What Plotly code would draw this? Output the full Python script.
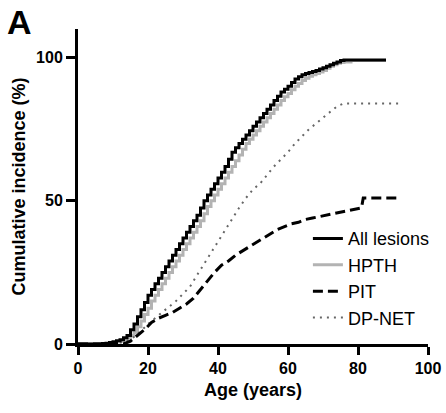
import plotly.graph_objects as go

# Age (years) and cumulative incidence (%)
all_age = [0, 6, 7, 8, 9, 10, 11, 12, 13, 14, 15, 16, 17, 18, 19, 20, 21, 22, 23, 24, 25, 26, 27, 28, 29,
           30, 31, 32, 33, 34, 35, 36, 37, 38, 39, 40, 41, 42, 43, 44, 45, 46, 47, 48, 49, 50, 51, 52, 53,
           54, 55, 56, 57, 58, 59, 60, 61, 62, 63, 64, 65, 66, 67, 68, 69, 70, 71, 72, 73, 74, 75, 76, 88]
all_pct = [0, 0, 0.2, 0.3, 0.5, 0.8, 1.1, 1.5, 2.2, 3, 5, 7, 9.5, 12, 14.5, 17, 19, 21, 23, 25, 27, 29, 31,
           33, 35, 37, 39, 41, 43, 45, 47.5, 50, 52, 54, 56, 58, 60, 62, 64.5, 67, 68.5, 70, 71.5, 73, 74.5,
           76, 77.5, 79, 80.5, 82, 83.5, 85, 86.5, 88, 89, 90, 91.3, 92.5, 93.3, 94, 94.5, 94.8, 95.2, 95.5,
           96, 96.5, 97, 97.5, 98, 98.5, 99, 99.2, 99.2]

hpth_age = [0, 6, 7, 8, 9, 10, 11, 12, 13, 14, 15, 16, 17, 18, 19, 20, 21, 22, 23, 24, 25, 26, 27, 28, 29,
            30, 31, 32, 33, 34, 35, 36, 37, 38, 39, 40, 41, 42, 43, 44, 45, 46, 47, 48, 49, 50, 51, 52, 53,
            54, 55, 56, 57, 58, 59, 60, 61, 62, 63, 64, 65, 66, 67, 68, 69, 70, 71, 72, 73, 74, 75, 76, 78, 88]
hpth_pct = [0, 0, 0.1, 0.2, 0.3, 0.5, 0.7, 1, 1.5, 2, 3, 4, 6, 8, 10.3, 12.5, 15, 17, 19, 21, 23, 25, 27, 29,
            31, 33, 35, 37, 39, 41, 43, 45.5, 48, 50, 52, 54, 56, 58, 60, 62, 64, 66, 68, 70, 71.5, 73, 74.5,
            76, 77.5, 79, 80.5, 82, 83.5, 85, 86.3, 87.5, 88.8, 90, 91, 92, 92.8, 93.5, 94, 94.5, 95, 95.5,
            96.3, 97, 97.5, 98, 98.3, 98.5, 99, 99]

pit_age = [0, 13, 15, 17, 19, 21, 23, 25, 27, 29, 31, 33, 35, 37, 39, 41, 43, 45, 47, 49, 51, 53, 55, 57,
           59, 61, 63, 65, 67, 69, 71, 73, 75, 77, 79, 81, 81.5, 92]
pit_pct = [0, 0, 1, 3, 5, 7.5, 9, 10, 11, 12.5, 14, 16, 19, 22, 25, 27.5, 29, 31, 32.5, 34, 35.5, 37, 38.5, 40,
           41, 42, 42.5, 43.5, 44, 44.5, 45, 45.5, 46, 46.5, 47, 47.5, 51, 51]

dpnet_age = [0, 10, 14, 16, 18, 20, 22, 24, 26, 28, 30, 32, 34, 36, 38, 40, 42, 44, 46, 48, 50, 52, 54, 56,
             58, 60, 62, 64, 66, 68, 70, 72, 74, 76, 92]
dpnet_pct = [0, 0, 1, 2.5, 4.5, 7, 9, 11, 13, 15, 17.5, 20, 24, 28, 32, 36, 40, 44, 47.5, 51, 54, 56, 59, 62,
             64.5, 67, 70, 72.5, 75, 77, 79, 81, 83, 84, 84]

x_ticks = [0, 20, 40, 60, 80, 100]
y_ticks = [0, 50, 100]

FONT = "Liberation Sans, Arial, sans-serif"

fig = go.Figure()
fig.add_trace(go.Scatter(x=hpth_age, y=hpth_pct, mode="lines", name="HPTH", line_shape="hv",
                         line=dict(color="#b3b3b3", width=3), legendrank=2))
fig.add_trace(go.Scatter(x=dpnet_age, y=dpnet_pct, mode="lines", name="DP-NET", line_shape="linear",
                         line=dict(color="#666666", width=2, dash="2px,5px"), legendrank=4))
fig.add_trace(go.Scatter(x=pit_age, y=pit_pct, mode="lines", name="PIT", line_shape="linear",
                         line=dict(color="black", width=3, dash="10px,5px"), legendrank=3))
fig.add_trace(go.Scatter(x=all_age, y=all_pct, mode="lines", name="All lesions", line_shape="hv",
                         line=dict(color="black", width=3), legendrank=1))

fig.update_layout(
    width=446, height=413,
    margin=dict(l=78, r=17, t=29, b=69),
    paper_bgcolor="white", plot_bgcolor="white",
    font=dict(family=FONT, color="black"),
    showlegend=True,
    legend=dict(x=0.655, xanchor="left", y=0.393, yanchor="top",
                bgcolor="rgba(0,0,0,0)", font=dict(size=18, family=FONT, color="black"),
                traceorder="normal", tracegroupgap=0),
    xaxis=dict(range=[0, 100], tickvals=x_ticks, ticktext=[str(v) for v in x_ticks],
               showline=True, linewidth=3, linecolor="black", ticks="outside", ticklen=8,
               tickwidth=3, tickcolor="black", showgrid=False, zeroline=False, automargin=False,
               tickfont=dict(size=16, family=FONT, weight="bold"),
               title=dict(text="Age (years)", font=dict(size=18, family=FONT, weight="bold"), standoff=8)),
    yaxis=dict(range=[0, 110], tickvals=y_ticks, ticktext=[str(v) for v in y_ticks],
               showline=True, linewidth=3, linecolor="black", ticks="outside", ticklen=9,
               tickwidth=3, tickcolor="black", showgrid=False, zeroline=False, automargin=False,
               tickfont=dict(size=16, family=FONT, weight="bold"),
               title=dict(text="Cumulative incidence (%)", font=dict(size=18, family=FONT, weight="bold"),
                          standoff=6)),
    annotations=[dict(text="A", x=-0.208, xref="paper", xanchor="left", y=1.023, yref="paper",
                      yanchor="middle", showarrow=False,
                      font=dict(size=34, family=FONT, weight="bold", color="black"))],
)

# remove the default page margin so the figure sits at the window's top-left corner
fig.write_html("out.html", config={"displayModeBar": False},
               post_script="document.body.style.margin='0px';")
